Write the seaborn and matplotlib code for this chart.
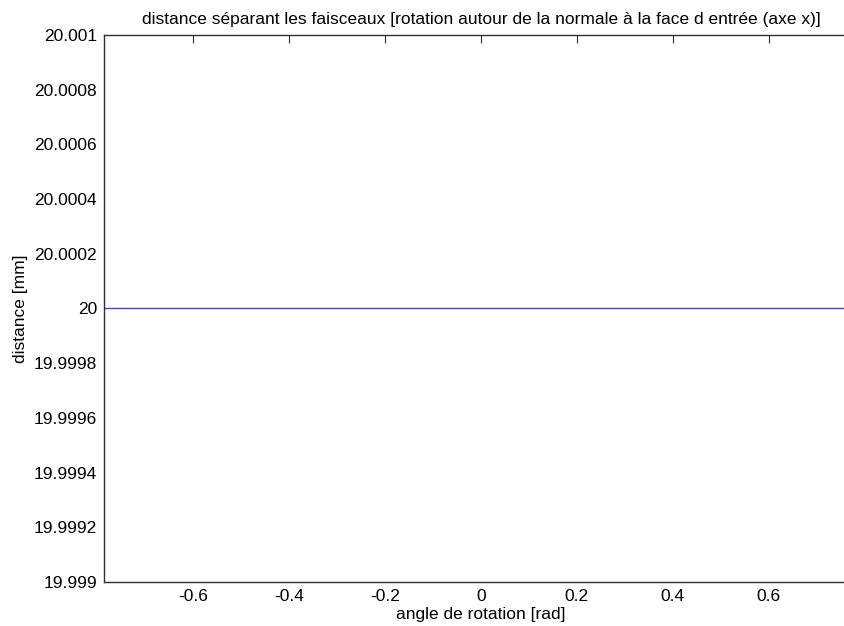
import matplotlib
matplotlib.use("Agg")
import matplotlib.pyplot as plt
import seaborn as sns
import pandas as pd

angle = [-0.7854, -0.6, -0.4, -0.2, 0.0, 0.2, 0.4, 0.6, 0.7854]
distance = [20.0, 20.0, 20.0, 20.0, 20.0, 20.0, 20.0, 20.0, 20.0]
xticks = [-0.6, -0.4, -0.2, 0, 0.2, 0.4, 0.6]
xtick_labels = ["-0.6", "-0.4", "-0.2", "0", "0.2", "0.4", "0.6"]
yticks = [19.999, 19.9992, 19.9994, 19.9996, 19.9998, 20.0, 20.0002, 20.0004, 20.0006, 20.0008, 20.001]
ytick_labels = ["19.999", "19.9992", "19.9994", "19.9996", "19.9998", "20", "20.0002", "20.0004", "20.0006", "20.0008", "20.001"]

sns.set_theme(style="white")
plt.rcParams["font.family"] = ["Liberation Sans", "DejaVu Sans"]
plt.rcParams["text.color"] = "black"
plt.rcParams["axes.labelcolor"] = "black"

df = pd.DataFrame({"angle": angle, "distance": distance})

fig = plt.figure(figsize=(8.45, 6.26), dpi=100)
ax = fig.add_axes([0.1231, 0.0703, 0.892, 0.874])
sns.lineplot(data=df, x="angle", y="distance", ax=ax, color="#4b4b95", linewidth=1.0)

ax.set_xlim(-0.7854, 0.7854)
ax.set_ylim(19.999, 20.001)
ax.set_xticks(xticks)
ax.set_xticklabels(xtick_labels)
ax.set_yticks(yticks)
ax.set_yticklabels(ytick_labels)

for s in ["left", "bottom", "top", "right"]:
    ax.spines[s].set_color("#303030")
    ax.spines[s].set_linewidth(1.0)

ax.tick_params(axis="both", direction="in", length=6, width=0.8, color="#303030",
               labelsize=12.5, labelcolor="black", top=True, right=True, pad=5)

ax.set_xlabel("angle de rotation [rad]", fontsize=12.5, labelpad=2, color="black")
ax.set_ylabel("distance [mm]", fontsize=12.5, labelpad=4, color="black")
ax.set_title("distance séparant les faisceaux [rotation autour de la normale à la face d entrée (axe x)]",
             fontsize=12.5, pad=8, color="black")

fig.savefig("out.png", dpi=100)
